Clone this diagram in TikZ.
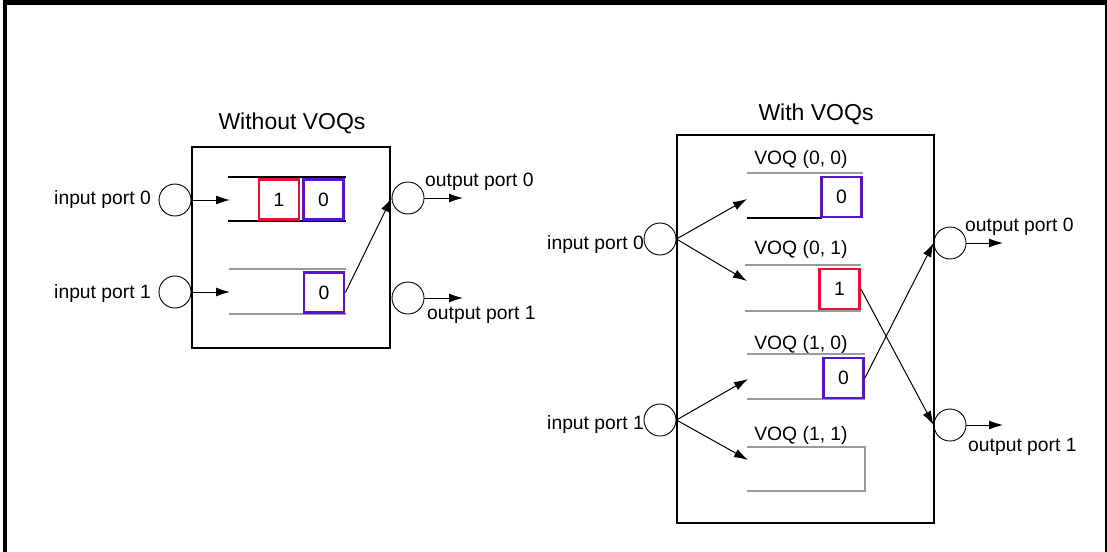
\documentclass[tikz,border=0pt]{standalone}
\usepackage{fontspec}
\setmainfont{Liberation Sans}
\usetikzlibrary{positioning,arrows.meta}
\definecolor{pktred}{HTML}{E8102E}
\definecolor{pktblue}{HTML}{5A14C8}
\definecolor{lanegray}{HTML}{9A9A9A}

\begin{document}
\begin{tikzpicture}[x=1pt, y=-1pt,
    port/.style={draw, circle, minimum size=32pt, inner sep=0pt, line width=0.9pt},
    lbl/.style={inner sep=0pt, font=\fontsize{19.3}{22}\selectfont},
    ttl/.style={inner sep=0pt, font=\fontsize{23}{27}\selectfont},
    pkt/.style={draw, line width=2.8pt, minimum width=40pt, minimum height=40pt,
                inner sep=0pt, font=\fontsize{19.3}{22}\selectfont},
    flow/.style={-{Latex[length=14pt,width=9pt]}, line width=1pt},
    lane/.style={draw=lanegray, line width=2pt}]
  \useasboundingbox (0,0) rectangle (1107,551);
  % outer frame
  \draw[line width=4.5pt] (5,560) -- (5,2.5) -- (1106,2.5);
  \draw[line width=2pt] (1106,0) -- (1106,560);

  % without VOQs
  \node[ttl] (woTitle) at (292,123) {Without VOQs};
  \draw[line width=1.2pt] (192,147) rectangle (390,348);
  \node[port] (aIn0) at (175,200) {};
  \node[port] (aIn1) at (175,292) {};
  \node[port] (aOut0) at (408,198) {};
  \node[port] (aOut1) at (408,298) {};
  \node[lbl, anchor=east] (aIn0L) at (151,200) {input port 0};
  \node[lbl, anchor=east] (aIn1L) at (151,294) {input port 1};
  \node[lbl, anchor=west] (aOut0L) at (425,182) {output port 0};
  \node[lbl, anchor=west] (aOut1L) at (427,315) {output port 1};
  \draw[line width=1.2pt] (228,177) -- (346,177) (228,221) -- (346,221);
  \draw[lane] (229,269) -- (346,269) (229,314) -- (346,314);
  \node[pkt, draw=pktred] (aP1) at (279,199.5) {1};
  \node[pkt, draw=pktblue] (aP0) at (323.5,199.5) {0};
  \node[pkt, draw=pktblue] (aP2) at (324,292.5) {0};
  \coordinate (aQ0) at (230,200);
  \coordinate (aQ1) at (230,292);
  \coordinate (aX0) at (463,198);
  \coordinate (aX1) at (463,298);
  \draw[flow] (aIn0) -- (aQ0);
  \draw[flow] (aIn1) -- (aQ1);
  \draw[flow] (aP2.east) -- (aOut0.west);
  \draw[flow] (aOut0) -- (aX0);
  \draw[flow] (aOut1) -- (aX1);

  % with VOQs
  \node[ttl] (wTitle) at (816,114) {With VOQs};
  \draw[line width=1.2pt] (677,135) rectangle (934,523);
  \node[port] (bIn0) at (660,239) {};
  \node[port] (bIn1) at (660,420) {};
  \node[port] (bOut0) at (950,243) {};
  \node[port] (bOut1) at (950,425) {};
  \node[lbl, anchor=east] (bIn0L) at (644,245) {input port 0};
  \node[lbl, anchor=east] (bIn1L) at (644,425) {input port 1};
  \node[lbl, anchor=west] (bOut0L) at (965,227) {output port 0};
  \node[lbl, anchor=west] (bOut1L) at (968,447) {output port 1};
  \foreach \y/\t [count=\i] in {160/{(0, 0)}, 250/{(0, 1)}, 345/{(1, 0)}, 435/{(1, 1)}}
    \node[lbl] (voq\i) at (801,\y) {VOQ \t};
  \draw[lane] (747,173) -- (863,173);
  \draw[line width=1.2pt] (747,218) -- (822,218);
  \draw[lane] (745,265) -- (861,265) (745,311) -- (861,311);
  \draw[lane] (747,354) -- (865,354) (747,399) -- (865,399);
  \draw[lane] (747,447) -- (865,447) -- (865,491) -- (747,491);
  \node[pkt, draw=pktblue] (bP00) at (841.5,197) {0};
  \node[pkt, draw=pktred] (bP01) at (839.5,289) {1};
  \node[pkt, draw=pktblue] (bP10) at (843.5,378) {0};
  \coordinate (bQ00) at (747,199);
  \coordinate (bQ01) at (747,281);
  \coordinate (bQ10) at (748,379);
  \coordinate (bQ11) at (748,460);
  \coordinate (bX0) at (1003,243);
  \coordinate (bX1) at (1003,425);
  \draw[flow] (bIn0.east) -- (bQ00);
  \draw[flow] (bIn0.east) -- (bQ01);
  \draw[flow] (bIn1.east) -- (bQ10);
  \draw[flow] (bIn1.east) -- (bQ11);
  \draw[flow] (bP01.east) -- (bOut1.west);
  \draw[flow] (bP10.east) -- (bOut0.west);
  \draw[flow] (bOut0) -- (bX0);
  \draw[flow] (bOut1) -- (bX1);
\end{tikzpicture}
\end{document}
